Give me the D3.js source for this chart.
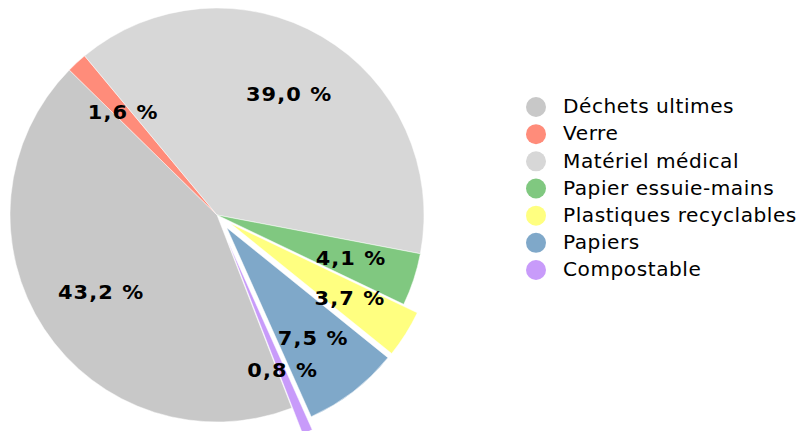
<!DOCTYPE html>
<html><head><meta charset="utf-8">
<script src="https://cdn.jsdelivr.net/npm/d3@7"></script>
<style>body{margin:0;background:#fff}svg{display:block}</style>
</head><body>
<svg id="c" width="801" height="431"></svg>
<script>
const categories = ["Déchets ultimes","Verre","Matériel médical","Papier essuie-mains","Plastiques recyclables","Papiers","Compostable"];
const values = [43.2, 1.6, 39.0, 4.1, 3.7, 7.5, 0.8];
const labels = ["43,2 %","1,6 %","39,0 %","4,1 %","3,7 %","7,5 %","0,8 %"];
const colors = ["#c8c8c8","#ff8c7a","#d7d7d7","#80c880","#ffff80","#7fa8c9","#c89bfa"];

const svg = d3.select("#c");
const cx = 217, cy = 215, R = 207, labelR = 140;
const explodeBy = {"Plastiques recyclables":16, "Papiers":16, "Compostable":28};
const startDeg = 158.8;
const pie = d3.pie().sort(null).value(d => d)
  .startAngle(startDeg*Math.PI/180).endAngle((startDeg+360)*Math.PI/180);
const arcs = pie(values);
const arc = d3.arc().innerRadius(0).outerRadius(R);
const g = svg.append("g").attr("transform",`translate(${cx},${cy})`);
function shift(d,i){
  const off = explodeBy[categories[i]] || 0;
  const a = (d.startAngle+d.endAngle)/2;
  return [off*Math.sin(a), -off*Math.cos(a)];
}
g.selectAll("path").data(arcs).join("path")
  .attr("d",arc).attr("fill",(d,i)=>colors[i])
  .attr("stroke","#fff").attr("stroke-width",0.5)
  .attr("transform",(d,i)=>{const s=shift(d,i);return `translate(${s[0]},${s[1]})`;});
g.selectAll("text").data(arcs).join("text")
  .attr("transform",(d,i)=>{
    const a=(d.startAngle+d.endAngle)/2, s=shift(d,i);
    return `translate(${labelR*Math.sin(a)+s[0]+1},${-labelR*Math.cos(a)+s[1]}) scale(1.1,1)`;})
  .attr("text-anchor","middle").attr("dominant-baseline","central")
  .attr("font-family","DejaVu Sans").attr("font-weight","bold").attr("font-size",19)
  .attr("letter-spacing",1)
  .attr("fill","#000").text((d,i)=>labels[i]);

const leg = svg.append("g");
const ly = d3.scalePoint().domain(categories).range([107,270]);
leg.selectAll("circle").data(categories).join("circle")
  .attr("cx",536).attr("cy",d=>ly(d)).attr("r",10).attr("fill",(d,i)=>colors[i]);
leg.selectAll("text").data(categories).join("text")
  .attr("transform",d=>`translate(563,${ly(d)}) scale(1.06,1)`)
  .attr("dominant-baseline","central")
  .attr("font-family","DejaVu Sans").attr("font-size",19).attr("letter-spacing",0.5)
  .attr("fill","#000").text(d=>d);
</script>
</body></html>
